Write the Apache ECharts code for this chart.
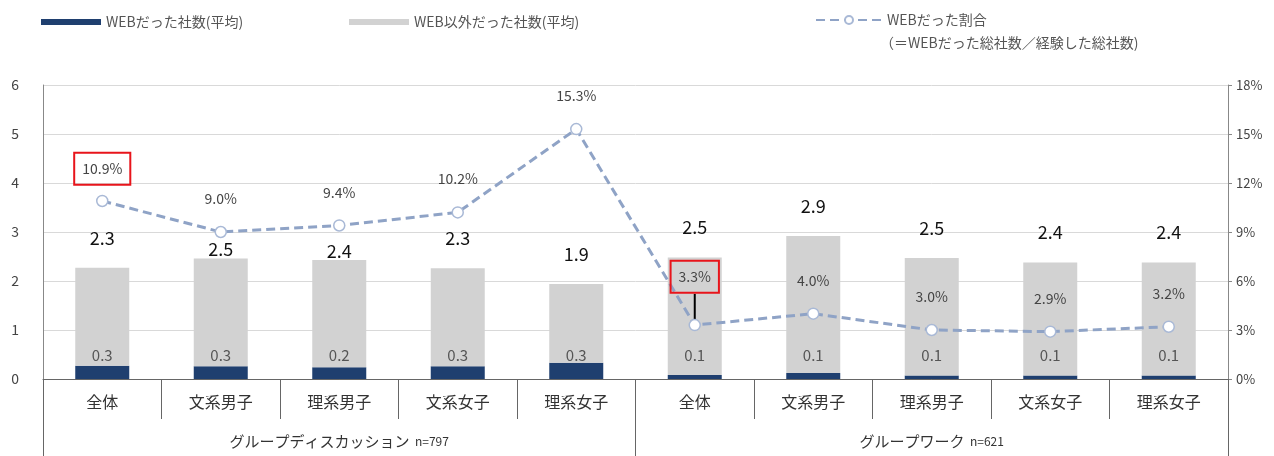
<!DOCTYPE html>
<html><head><meta charset="utf-8">
<script src="https://cdn.jsdelivr.net/npm/echarts@6/dist/echarts.min.js"></script>
<style>html,body{margin:0;padding:0;background:#fff}#c{width:1274px;height:456px}</style>
</head><body><div id="c"></div>
<script>
const categories = ['全体','文系男子','理系男子','文系女子','理系女子','全体','文系男子','理系男子','文系女子','理系女子'];
const groups = ['グループディスカッション n=797','グループワーク n=621'];
const webCount = [0.27,0.26,0.24,0.26,0.33,0.08,0.12,0.07,0.07,0.07];
const totalCount = [2.27,2.46,2.43,2.26,1.94,2.48,2.92,2.47,2.38,2.38];
const webRatio = [10.9,9.0,9.4,10.2,15.3,3.3,4.0,3.0,2.9,3.2];
const totalLabelDistance = [21,0,0,21,21,21,21,21,21,21];
const highlighted = [0,5];
const seriesNames = ['WEBだった社数(平均)','WEB以外だった社数(平均)','WEBだった割合'];
const ratioNote = '（＝WEBだった総社数／経験した総社数)';

const otherCount = totalCount.map((t,i)=>+(t-webCount[i]).toFixed(3));
const FONT = '"Noto Sans CJK JP", "Noto Sans", sans-serif';

const chart = echarts.init(document.getElementById('c'));
chart.setOption({
  animation:false,
  textStyle:{fontFamily:FONT},
  grid:{left:43,right:46,top:85,bottom:77},
  legend:[
    {data:[seriesNames[0]],left:36,top:10,icon:'rect',itemWidth:60,itemHeight:6,itemGap:6,textStyle:{fontSize:14,color:'#555'}},
    {data:[seriesNames[1]],left:344,top:10,icon:'rect',itemWidth:60,itemHeight:6,itemGap:6,textStyle:{fontSize:14,color:'#555'}},
    {data:[seriesNames[2]],left:810,top:8,itemWidth:66,itemHeight:10,itemGap:5,
     textStyle:{fontSize:14,color:'#555'}}
  ],
  graphic:[
    {type:'text',left:880,top:36,style:{text:ratioNote,fontSize:14,fill:'#555',fontFamily:FONT}}
  ],
  xAxis:[
    {type:'category',data:categories,position:'bottom',
     axisLine:{lineStyle:{color:'#666'}},
     axisTick:{show:true,interval:0,length:40,lineStyle:{color:'#666'}},
     axisLabel:{interval:0,margin:15,fontSize:16,color:'#333'}},
    {type:'category',data:groups,position:'bottom',
     axisLine:{show:false},
     axisTick:{show:true,interval:0,length:77,lineStyle:{color:'#666'}},
     axisLabel:{interval:0,margin:55,
       formatter:v=>{const p=v.split(' ');return '{a|'+p[0]+'}  {b|'+p[1]+'}';},
       rich:{a:{fontSize:15,color:'#333',fontFamily:FONT},b:{fontSize:12,color:'#333',fontFamily:FONT}}}}
  ],
  yAxis:[
    {type:'value',min:0,max:6,interval:1,
     axisLine:{show:true,lineStyle:{color:'#888'}},axisTick:{show:false},
     axisLabel:{fontSize:14,color:'#444',margin:24},
     splitLine:{lineStyle:{color:'#d9d9d9'}}},
    {type:'value',min:0,max:18,interval:3,position:'right',
     axisLine:{show:true,lineStyle:{color:'#888'}},
     axisTick:{show:true,length:4,lineStyle:{color:'#888'}},
     axisLabel:{fontSize:13,color:'#444',margin:8,formatter:'{value}%'},
     splitLine:{show:false}}
  ],
  series:[
    {name:seriesNames[0],type:'bar',stack:'s',barWidth:54,data:webCount,
     itemStyle:{color:'#1f3f6f'},
     label:{show:true,position:'insideBottom',distance:16,fontSize:15,color:'#555',
       formatter:p=>p.value.toFixed(1)}},
    {name:seriesNames[1],type:'bar',stack:'s',barWidth:54,
     data:otherCount.map((v,i)=>({value:v,label:{distance:totalLabelDistance[i]}})),
     itemStyle:{color:'#d2d2d2'},
     label:{show:true,position:'top',fontSize:18,color:'#111',
       formatter:p=>totalCount[p.dataIndex].toFixed(1)}},
    {name:seriesNames[2],type:'line',yAxisIndex:1,z:5,
     data:webRatio.map((v,i)=>{
       const o={value:v};
       if(highlighted.indexOf(i)>=0){
         o.label={borderColor:'#e8141b',borderWidth:2,padding:[9,8,9,8],distance:10};
         if(i===5) o.labelLine={show:true,lineStyle:{color:'#000',width:2}};
       }
       return o;}),
     labelLayout:p=>p.dataIndex===5?{dy:-16}:{},
     lineStyle:{color:'#8fa3c6',width:3,type:[9,5]},
     symbol:'circle',symbolSize:11,
     itemStyle:{color:'#fff',borderColor:'#a9b9d6',borderWidth:1.5},
     label:{show:true,position:'top',distance:20,fontSize:14,color:'#444',
       formatter:p=>p.value.toFixed(1)+'%'}}
  ]
});
</script></body></html>
